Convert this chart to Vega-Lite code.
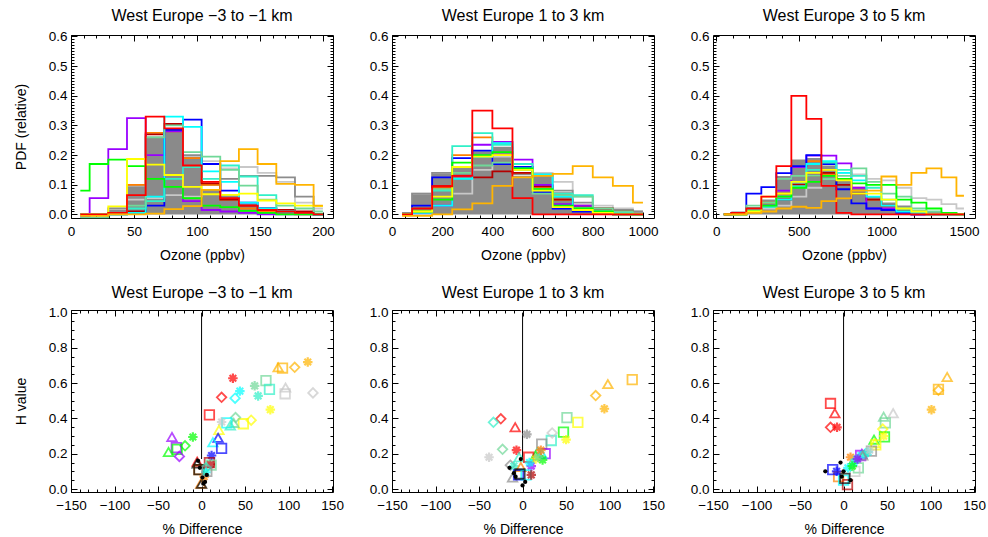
{
"$schema":"https://vega.github.io/schema/vega-lite/v6.json",
"padding":{"left":13,"top":7,"right":5,"bottom":3},
"background":"white",
"bounds":"flush",
"columns":3,
"spacing":{"row":92,"column":59},
"datasets":{
"o1":[{"x":7.4,"y":0},{"x":22.2,"y":0.003},{"x":37,"y":0.015},{"x":51.9,"y":0.095},{"x":66.7,"y":0.26},{"x":81.5,"y":0.29},{"x":96.3,"y":0.195},{"x":111.1,"y":0.085},{"x":125.9,"y":0.065},{"x":140.7,"y":0.035},{"x":155.6,"y":0.02},{"x":170.4,"y":0.01},{"x":185.2,"y":0.005},{"x":200,"y":0}],
"o2":[{"x":40,"y":0.005},{"x":120,"y":0.07},{"x":200,"y":0.14},{"x":280,"y":0.155},{"x":360,"y":0.21},{"x":440,"y":0.225},{"x":520,"y":0.13},{"x":600,"y":0.13},{"x":680,"y":0.075},{"x":760,"y":0.03},{"x":840,"y":0.02},{"x":920,"y":0.015},{"x":1000,"y":0.01}],
"o3":[{"x":45.5,"y":0.005},{"x":136.4,"y":0.01},{"x":227.3,"y":0.02},{"x":318.2,"y":0.05},{"x":409.1,"y":0.13},{"x":500,"y":0.185},{"x":590.9,"y":0.19},{"x":681.8,"y":0.165},{"x":772.7,"y":0.12},{"x":863.6,"y":0.09},{"x":954.5,"y":0.06},{"x":1045.5,"y":0.04},{"x":1136.4,"y":0.03},{"x":1227.3,"y":0.015},{"x":1318.2,"y":0.01},{"x":1409.1,"y":0.005},{"x":1500,"y":0.005}],
"h1":[
{"m":"lg","x":7.4,"y":0},{"m":"lg","x":22.2,"y":0},{"m":"lg","x":37,"y":0.02},{"m":"lg","x":51.9,"y":0.05},{"m":"lg","x":66.7,"y":0.055},{"m":"lg","x":81.5,"y":0.065},{"m":"lg","x":96.3,"y":0.06},{"m":"lg","x":111.1,"y":0.18},{"m":"lg","x":125.9,"y":0.155},{"m":"lg","x":140.7,"y":0.16},{"m":"lg","x":155.6,"y":0.14},{"m":"lg","x":170.4,"y":0.11},{"m":"lg","x":185.2,"y":0.04},{"m":"lg","x":200,"y":0.02},
{"m":"dg","x":7.4,"y":0},{"m":"dg","x":22.2,"y":0},{"m":"dg","x":37,"y":0.02},{"m":"dg","x":51.9,"y":0.1},{"m":"dg","x":66.7,"y":0.26},{"m":"dg","x":81.5,"y":0.28},{"m":"dg","x":96.3,"y":0.2},{"m":"dg","x":111.1,"y":0.1},{"m":"dg","x":125.9,"y":0.12},{"m":"dg","x":140.7,"y":0.13},{"m":"dg","x":155.6,"y":0.13},{"m":"dg","x":170.4,"y":0.125},{"m":"dg","x":185.2,"y":0.06},{"m":"dg","x":200,"y":0},
{"m":"or","x":7.4,"y":0},{"m":"or","x":22.2,"y":0},{"m":"or","x":37,"y":0.005},{"m":"or","x":51.9,"y":0.1},{"m":"or","x":66.7,"y":0.275},{"m":"or","x":81.5,"y":0.28},{"m":"or","x":96.3,"y":0.19},{"m":"or","x":111.1,"y":0.1},{"m":"or","x":125.9,"y":0.05},{"m":"or","x":140.7,"y":0.02},{"m":"or","x":155.6,"y":0.01},{"m":"or","x":170.4,"y":0.005},{"m":"or","x":185.2,"y":0},{"m":"or","x":200,"y":0},
{"m":"dr","x":7.4,"y":0},{"m":"dr","x":22.2,"y":0},{"m":"dr","x":37,"y":0.005},{"m":"dr","x":51.9,"y":0.01},{"m":"dr","x":66.7,"y":0.27},{"m":"dr","x":81.5,"y":0.305},{"m":"dr","x":96.3,"y":0.16},{"m":"dr","x":111.1,"y":0.105},{"m":"dr","x":125.9,"y":0.05},{"m":"dr","x":140.7,"y":0.03},{"m":"dr","x":155.6,"y":0.02},{"m":"dr","x":170.4,"y":0.015},{"m":"dr","x":185.2,"y":0.01},{"m":"dr","x":200,"y":0},
{"m":"pu","x":7.4,"y":-0.008},{"m":"pu","x":22.2,"y":0.055},{"m":"pu","x":37,"y":0.22},{"m":"pu","x":51.9,"y":0.325},{"m":"pu","x":66.7,"y":0.2},{"m":"pu","x":81.5,"y":0.28},{"m":"pu","x":96.3,"y":0.045},{"m":"pu","x":111.1,"y":0.015},{"m":"pu","x":125.9,"y":0.01},{"m":"pu","x":140.7,"y":0.005},{"m":"pu","x":155.6,"y":0},{"m":"pu","x":170.4,"y":0},{"m":"pu","x":185.2,"y":0},{"m":"pu","x":200,"y":0},
{"m":"bl","x":7.4,"y":0},{"m":"bl","x":22.2,"y":0},{"m":"bl","x":37,"y":0},{"m":"bl","x":51.9,"y":0.005},{"m":"bl","x":66.7,"y":0.03},{"m":"bl","x":81.5,"y":0.285},{"m":"bl","x":96.3,"y":0.32},{"m":"bl","x":111.1,"y":0.17},{"m":"bl","x":125.9,"y":0.08},{"m":"bl","x":140.7,"y":0.04},{"m":"bl","x":155.6,"y":0.02},{"m":"bl","x":170.4,"y":0.01},{"m":"bl","x":185.2,"y":0.005},{"m":"bl","x":200,"y":0},
{"m":"cy","x":7.4,"y":0},{"m":"cy","x":22.2,"y":0},{"m":"cy","x":37,"y":0},{"m":"cy","x":51.9,"y":0.005},{"m":"cy","x":66.7,"y":0.06},{"m":"cy","x":81.5,"y":0.33},{"m":"cy","x":96.3,"y":0.295},{"m":"cy","x":111.1,"y":0.145},{"m":"cy","x":125.9,"y":0.11},{"m":"cy","x":140.7,"y":0.04},{"m":"cy","x":155.6,"y":0.02},{"m":"cy","x":170.4,"y":0.01},{"m":"cy","x":185.2,"y":0.005},{"m":"cy","x":200,"y":0},
{"m":"tq","x":7.4,"y":0},{"m":"tq","x":22.2,"y":0},{"m":"tq","x":37,"y":0},{"m":"tq","x":51.9,"y":0.02},{"m":"tq","x":66.7,"y":0.045},{"m":"tq","x":81.5,"y":0.12},{"m":"tq","x":96.3,"y":0.16},{"m":"tq","x":111.1,"y":0.12},{"m":"tq","x":125.9,"y":0.165},{"m":"tq","x":140.7,"y":0.128},{"m":"tq","x":155.6,"y":0.065},{"m":"tq","x":170.4,"y":0.01},{"m":"tq","x":185.2,"y":0.005},{"m":"tq","x":200,"y":0},
{"m":"sg","x":7.4,"y":-0.01},{"m":"sg","x":22.2,"y":-0.01},{"m":"sg","x":37,"y":0},{"m":"sg","x":51.9,"y":0.03},{"m":"sg","x":66.7,"y":0.26},{"m":"sg","x":81.5,"y":0.3},{"m":"sg","x":96.3,"y":0.21},{"m":"sg","x":111.1,"y":0.195},{"m":"sg","x":125.9,"y":0.15},{"m":"sg","x":140.7,"y":0.097},{"m":"sg","x":155.6,"y":0.05},{"m":"sg","x":170.4,"y":0.03},{"m":"sg","x":185.2,"y":0.02},{"m":"sg","x":200,"y":0.01},
{"m":"gr","x":7.4,"y":0.08},{"m":"gr","x":22.2,"y":0.17},{"m":"gr","x":37,"y":0.185},{"m":"gr","x":51.9,"y":0.163},{"m":"gr","x":66.7,"y":0.12},{"m":"gr","x":81.5,"y":0.093},{"m":"gr","x":96.3,"y":0.055},{"m":"gr","x":111.1,"y":0.03},{"m":"gr","x":125.9,"y":0.025},{"m":"gr","x":140.7,"y":0.012},{"m":"gr","x":155.6,"y":0.005},{"m":"gr","x":170.4,"y":0},{"m":"gr","x":185.2,"y":0},{"m":"gr","x":200,"y":0},
{"m":"ye","x":7.4,"y":0},{"m":"ye","x":22.2,"y":0},{"m":"ye","x":37,"y":0.027},{"m":"ye","x":51.9,"y":0.187},{"m":"ye","x":66.7,"y":0.168},{"m":"ye","x":81.5,"y":0.133},{"m":"ye","x":96.3,"y":0.093},{"m":"ye","x":111.1,"y":0.068},{"m":"ye","x":125.9,"y":0.066},{"m":"ye","x":140.7,"y":0.07},{"m":"ye","x":155.6,"y":0.047},{"m":"ye","x":170.4,"y":0.037},{"m":"ye","x":185.2,"y":0.03},{"m":"ye","x":200,"y":0.028},
{"m":"re","x":7.4,"y":0},{"m":"re","x":22.2,"y":0},{"m":"re","x":37,"y":0.005},{"m":"re","x":51.9,"y":0.065},{"m":"re","x":66.7,"y":0.33},{"m":"re","x":81.5,"y":0.29},{"m":"re","x":96.3,"y":0.165},{"m":"re","x":111.1,"y":0.11},{"m":"re","x":125.9,"y":0.055},{"m":"re","x":140.7,"y":0.03},{"m":"re","x":155.6,"y":0.015},{"m":"re","x":170.4,"y":0.01},{"m":"re","x":185.2,"y":0.005},{"m":"re","x":200,"y":0},
{"m":"go","x":7.4,"y":-0.005},{"m":"go","x":22.2,"y":-0.005},{"m":"go","x":37,"y":0},{"m":"go","x":51.9,"y":0},{"m":"go","x":66.7,"y":0.003},{"m":"go","x":81.5,"y":0.018},{"m":"go","x":96.3,"y":0.028},{"m":"go","x":111.1,"y":0.083},{"m":"go","x":125.9,"y":0.18},{"m":"go","x":140.7,"y":0.22},{"m":"go","x":155.6,"y":0.17},{"m":"go","x":170.4,"y":0.103},{"m":"go","x":185.2,"y":0.1},{"m":"go","x":200,"y":0.03}],
"h2":[
{"m":"lg","x":40,"y":0.005},{"m":"lg","x":120,"y":0.07},{"m":"lg","x":200,"y":0.14},{"m":"lg","x":280,"y":0.07},{"m":"lg","x":360,"y":0.15},{"m":"lg","x":440,"y":0.195},{"m":"lg","x":520,"y":0.16},{"m":"lg","x":600,"y":0.14},{"m":"lg","x":680,"y":0.11},{"m":"lg","x":760,"y":0.06},{"m":"lg","x":840,"y":0.03},{"m":"lg","x":920,"y":0.02},{"m":"lg","x":1000,"y":0.01},
{"m":"dg","x":40,"y":0.005},{"m":"dg","x":120,"y":0.07},{"m":"dg","x":200,"y":0.14},{"m":"dg","x":280,"y":0.155},{"m":"dg","x":360,"y":0.21},{"m":"dg","x":440,"y":0.225},{"m":"dg","x":520,"y":0.135},{"m":"dg","x":600,"y":0.135},{"m":"dg","x":680,"y":0.08},{"m":"dg","x":760,"y":0.04},{"m":"dg","x":840,"y":0.02},{"m":"dg","x":920,"y":0.015},{"m":"dg","x":1000,"y":0.01},
{"m":"or","x":40,"y":0},{"m":"or","x":120,"y":0.01},{"m":"or","x":200,"y":0.09},{"m":"or","x":280,"y":0.2},{"m":"or","x":360,"y":0.26},{"m":"or","x":440,"y":0.2},{"m":"or","x":520,"y":0.14},{"m":"or","x":600,"y":0.09},{"m":"or","x":680,"y":0.05},{"m":"or","x":760,"y":0.02},{"m":"or","x":840,"y":0.01},{"m":"or","x":920,"y":0},{"m":"or","x":1000,"y":0},
{"m":"dr","x":40,"y":0},{"m":"dr","x":120,"y":0.02},{"m":"dr","x":200,"y":0.095},{"m":"dr","x":280,"y":0.13},{"m":"dr","x":360,"y":0.125},{"m":"dr","x":440,"y":0.145},{"m":"dr","x":520,"y":0.14},{"m":"dr","x":600,"y":0.095},{"m":"dr","x":680,"y":0.05},{"m":"dr","x":760,"y":0.03},{"m":"dr","x":840,"y":0.02},{"m":"dr","x":920,"y":0.01},{"m":"dr","x":1000,"y":0},
{"m":"pu","x":40,"y":0},{"m":"pu","x":120,"y":0.005},{"m":"pu","x":200,"y":0.03},{"m":"pu","x":280,"y":0.13},{"m":"pu","x":360,"y":0.235},{"m":"pu","x":440,"y":0.245},{"m":"pu","x":520,"y":0.185},{"m":"pu","x":600,"y":0.1},{"m":"pu","x":680,"y":0.035},{"m":"pu","x":760,"y":0.03},{"m":"pu","x":840,"y":0.01},{"m":"pu","x":920,"y":0},{"m":"pu","x":1000,"y":0},
{"m":"bl","x":40,"y":0},{"m":"bl","x":120,"y":0.03},{"m":"bl","x":200,"y":0.125},{"m":"bl","x":280,"y":0.19},{"m":"bl","x":360,"y":0.215},{"m":"bl","x":440,"y":0.17},{"m":"bl","x":520,"y":0.16},{"m":"bl","x":600,"y":0.075},{"m":"bl","x":680,"y":0.02},{"m":"bl","x":760,"y":0.01},{"m":"bl","x":840,"y":0.005},{"m":"bl","x":920,"y":0},{"m":"bl","x":1000,"y":0},
{"m":"cy","x":40,"y":0},{"m":"cy","x":120,"y":0.005},{"m":"cy","x":200,"y":0.03},{"m":"cy","x":280,"y":0.12},{"m":"cy","x":360,"y":0.195},{"m":"cy","x":440,"y":0.24},{"m":"cy","x":520,"y":0.155},{"m":"cy","x":600,"y":0.135},{"m":"cy","x":680,"y":0.06},{"m":"cy","x":760,"y":0.02},{"m":"cy","x":840,"y":0.01},{"m":"cy","x":920,"y":0.005},{"m":"cy","x":1000,"y":0},
{"m":"tq","x":40,"y":0},{"m":"tq","x":120,"y":0.02},{"m":"tq","x":200,"y":0.08},{"m":"tq","x":280,"y":0.23},{"m":"tq","x":360,"y":0.274},{"m":"tq","x":440,"y":0.235},{"m":"tq","x":520,"y":0.17},{"m":"tq","x":600,"y":0.085},{"m":"tq","x":680,"y":0.07},{"m":"tq","x":760,"y":0.065},{"m":"tq","x":840,"y":0.01},{"m":"tq","x":920,"y":0.005},{"m":"tq","x":1000,"y":0},
{"m":"sg","x":40,"y":0},{"m":"sg","x":120,"y":0.01},{"m":"sg","x":200,"y":0.085},{"m":"sg","x":280,"y":0.14},{"m":"sg","x":360,"y":0.165},{"m":"sg","x":440,"y":0.175},{"m":"sg","x":520,"y":0.15},{"m":"sg","x":600,"y":0.07},{"m":"sg","x":680,"y":0.065},{"m":"sg","x":760,"y":0.06},{"m":"sg","x":840,"y":0.02},{"m":"sg","x":920,"y":0.01},{"m":"sg","x":1000,"y":0},
{"m":"gr","x":40,"y":0},{"m":"gr","x":120,"y":0.01},{"m":"gr","x":200,"y":0.05},{"m":"gr","x":280,"y":0.175},{"m":"gr","x":360,"y":0.2},{"m":"gr","x":440,"y":0.21},{"m":"gr","x":520,"y":0.155},{"m":"gr","x":600,"y":0.085},{"m":"gr","x":680,"y":0.03},{"m":"gr","x":760,"y":0.02},{"m":"gr","x":840,"y":0.01},{"m":"gr","x":920,"y":0},{"m":"gr","x":1000,"y":0},
{"m":"ye","x":40,"y":0},{"m":"ye","x":120,"y":0.01},{"m":"ye","x":200,"y":0.06},{"m":"ye","x":280,"y":0.16},{"m":"ye","x":360,"y":0.195},{"m":"ye","x":440,"y":0.2},{"m":"ye","x":520,"y":0.15},{"m":"ye","x":600,"y":0.08},{"m":"ye","x":680,"y":0.025},{"m":"ye","x":760,"y":0.015},{"m":"ye","x":840,"y":0.005},{"m":"ye","x":920,"y":0},{"m":"ye","x":1000,"y":0},
{"m":"re","x":40,"y":0},{"m":"re","x":120,"y":0.02},{"m":"re","x":200,"y":0.095},{"m":"re","x":280,"y":0.13},{"m":"re","x":360,"y":0.35},{"m":"re","x":440,"y":0.29},{"m":"re","x":520,"y":0.055},{"m":"re","x":600,"y":0},{"m":"re","x":680,"y":0},{"m":"re","x":760,"y":0},{"m":"re","x":840,"y":0},{"m":"re","x":920,"y":0},{"m":"re","x":1000,"y":0},
{"m":"go","x":40,"y":-0.005},{"m":"go","x":120,"y":-0.005},{"m":"go","x":200,"y":0},{"m":"go","x":280,"y":0.017},{"m":"go","x":360,"y":0.037},{"m":"go","x":440,"y":0.096},{"m":"go","x":520,"y":0.125},{"m":"go","x":600,"y":0.13},{"m":"go","x":680,"y":0.137},{"m":"go","x":760,"y":0.163},{"m":"go","x":840,"y":0.125},{"m":"go","x":920,"y":0.096},{"m":"go","x":1000,"y":0.04}],
"h3":[
{"m":"lg","x":45.5,"y":0},{"m":"lg","x":136.4,"y":0},{"m":"lg","x":227.3,"y":0.01},{"m":"lg","x":318.2,"y":0.02},{"m":"lg","x":409.1,"y":0.03},{"m":"lg","x":500,"y":0.06},{"m":"lg","x":590.9,"y":0.09},{"m":"lg","x":681.8,"y":0.12},{"m":"lg","x":772.7,"y":0.14},{"m":"lg","x":863.6,"y":0.135},{"m":"lg","x":954.5,"y":0.12},{"m":"lg","x":1045.5,"y":0.115},{"m":"lg","x":1136.4,"y":0.09},{"m":"lg","x":1227.3,"y":0.055},{"m":"lg","x":1318.2,"y":0.05},{"m":"lg","x":1409.1,"y":0.035},{"m":"lg","x":1500,"y":0.02},
{"m":"or","x":45.5,"y":0},{"m":"or","x":136.4,"y":0},{"m":"or","x":227.3,"y":0.02},{"m":"or","x":318.2,"y":0.04},{"m":"or","x":409.1,"y":0.07},{"m":"or","x":500,"y":0.1},{"m":"or","x":590.9,"y":0.18},{"m":"or","x":681.8,"y":0.135},{"m":"or","x":772.7,"y":0.12},{"m":"or","x":863.6,"y":0.09},{"m":"or","x":954.5,"y":0.05},{"m":"or","x":1045.5,"y":0.02},{"m":"or","x":1136.4,"y":0.01},{"m":"or","x":1227.3,"y":0},{"m":"or","x":1318.2,"y":0},{"m":"or","x":1409.1,"y":0},{"m":"or","x":1500,"y":0},
{"m":"dr","x":45.5,"y":0},{"m":"dr","x":136.4,"y":0},{"m":"dr","x":227.3,"y":0.02},{"m":"dr","x":318.2,"y":0.03},{"m":"dr","x":409.1,"y":0.05},{"m":"dr","x":500,"y":0.1},{"m":"dr","x":590.9,"y":0.13},{"m":"dr","x":681.8,"y":0.14},{"m":"dr","x":772.7,"y":0.1},{"m":"dr","x":863.6,"y":0.07},{"m":"dr","x":954.5,"y":0.05},{"m":"dr","x":1045.5,"y":0.03},{"m":"dr","x":1136.4,"y":0.01},{"m":"dr","x":1227.3,"y":0},{"m":"dr","x":1318.2,"y":0},{"m":"dr","x":1409.1,"y":0},{"m":"dr","x":1500,"y":0},
{"m":"pu","x":45.5,"y":0},{"m":"pu","x":136.4,"y":0},{"m":"pu","x":227.3,"y":0.01},{"m":"pu","x":318.2,"y":0.03},{"m":"pu","x":409.1,"y":0.08},{"m":"pu","x":500,"y":0.16},{"m":"pu","x":590.9,"y":0.198},{"m":"pu","x":681.8,"y":0.198},{"m":"pu","x":772.7,"y":0.172},{"m":"pu","x":863.6,"y":0.09},{"m":"pu","x":954.5,"y":0.02},{"m":"pu","x":1045.5,"y":0.02},{"m":"pu","x":1136.4,"y":0.005},{"m":"pu","x":1227.3,"y":0},{"m":"pu","x":1318.2,"y":0},{"m":"pu","x":1409.1,"y":0},{"m":"pu","x":1500,"y":0},
{"m":"bl","x":45.5,"y":0},{"m":"bl","x":136.4,"y":0.005},{"m":"bl","x":227.3,"y":0.07},{"m":"bl","x":318.2,"y":0.092},{"m":"bl","x":409.1,"y":0.139},{"m":"bl","x":500,"y":0.163},{"m":"bl","x":590.9,"y":0.2},{"m":"bl","x":681.8,"y":0.17},{"m":"bl","x":772.7,"y":0.085},{"m":"bl","x":863.6,"y":0.037},{"m":"bl","x":954.5,"y":0.02},{"m":"bl","x":1045.5,"y":0.015},{"m":"bl","x":1136.4,"y":0.005},{"m":"bl","x":1227.3,"y":0},{"m":"bl","x":1318.2,"y":0},{"m":"bl","x":1409.1,"y":0},{"m":"bl","x":1500,"y":0},
{"m":"cy","x":45.5,"y":0},{"m":"cy","x":136.4,"y":0},{"m":"cy","x":227.3,"y":0.02},{"m":"cy","x":318.2,"y":0.03},{"m":"cy","x":409.1,"y":0.05},{"m":"cy","x":500,"y":0.11},{"m":"cy","x":590.9,"y":0.17},{"m":"cy","x":681.8,"y":0.18},{"m":"cy","x":772.7,"y":0.14},{"m":"cy","x":863.6,"y":0.115},{"m":"cy","x":954.5,"y":0.06},{"m":"cy","x":1045.5,"y":0.03},{"m":"cy","x":1136.4,"y":0.01},{"m":"cy","x":1227.3,"y":0.005},{"m":"cy","x":1318.2,"y":0},{"m":"cy","x":1409.1,"y":0},{"m":"cy","x":1500,"y":0},
{"m":"tq","x":45.5,"y":0},{"m":"tq","x":136.4,"y":0},{"m":"tq","x":227.3,"y":0.015},{"m":"tq","x":318.2,"y":0.025},{"m":"tq","x":409.1,"y":0.06},{"m":"tq","x":500,"y":0.095},{"m":"tq","x":590.9,"y":0.15},{"m":"tq","x":681.8,"y":0.175},{"m":"tq","x":772.7,"y":0.15},{"m":"tq","x":863.6,"y":0.13},{"m":"tq","x":954.5,"y":0.09},{"m":"tq","x":1045.5,"y":0.05},{"m":"tq","x":1136.4,"y":0.02},{"m":"tq","x":1227.3,"y":0.01},{"m":"tq","x":1318.2,"y":0},{"m":"tq","x":1409.1,"y":0},{"m":"tq","x":1500,"y":0},
{"m":"sg","x":45.5,"y":0},{"m":"sg","x":136.4,"y":0},{"m":"sg","x":227.3,"y":0.03},{"m":"sg","x":318.2,"y":0.04},{"m":"sg","x":409.1,"y":0.12},{"m":"sg","x":500,"y":0.13},{"m":"sg","x":590.9,"y":0.13},{"m":"sg","x":681.8,"y":0.12},{"m":"sg","x":772.7,"y":0.13},{"m":"sg","x":863.6,"y":0.155},{"m":"sg","x":954.5,"y":0.11},{"m":"sg","x":1045.5,"y":0.07},{"m":"sg","x":1136.4,"y":0.06},{"m":"sg","x":1227.3,"y":0.02},{"m":"sg","x":1318.2,"y":0.01},{"m":"sg","x":1409.1,"y":0.005},{"m":"sg","x":1500,"y":0},
{"m":"gr","x":45.5,"y":0},{"m":"gr","x":136.4,"y":0},{"m":"gr","x":227.3,"y":0.01},{"m":"gr","x":318.2,"y":0.03},{"m":"gr","x":409.1,"y":0.06},{"m":"gr","x":500,"y":0.09},{"m":"gr","x":590.9,"y":0.11},{"m":"gr","x":681.8,"y":0.13},{"m":"gr","x":772.7,"y":0.12},{"m":"gr","x":863.6,"y":0.105},{"m":"gr","x":954.5,"y":0.1},{"m":"gr","x":1045.5,"y":0.1},{"m":"gr","x":1136.4,"y":0.05},{"m":"gr","x":1227.3,"y":0.04},{"m":"gr","x":1318.2,"y":0.02},{"m":"gr","x":1409.1,"y":0.005},{"m":"gr","x":1500,"y":0},
{"m":"ye","x":45.5,"y":0},{"m":"ye","x":136.4,"y":0},{"m":"ye","x":227.3,"y":0.01},{"m":"ye","x":318.2,"y":0.06},{"m":"ye","x":409.1,"y":0.07},{"m":"ye","x":500,"y":0.11},{"m":"ye","x":590.9,"y":0.14},{"m":"ye","x":681.8,"y":0.15},{"m":"ye","x":772.7,"y":0.115},{"m":"ye","x":863.6,"y":0.07},{"m":"ye","x":954.5,"y":0.07},{"m":"ye","x":1045.5,"y":0.05},{"m":"ye","x":1136.4,"y":0.02},{"m":"ye","x":1227.3,"y":0.01},{"m":"ye","x":1318.2,"y":0},{"m":"ye","x":1409.1,"y":0},{"m":"ye","x":1500,"y":0},
{"m":"re","x":45.5,"y":0},{"m":"re","x":136.4,"y":0.005},{"m":"re","x":227.3,"y":0.02},{"m":"re","x":318.2,"y":0.06},{"m":"re","x":409.1,"y":0.163},{"m":"re","x":500,"y":0.4},{"m":"re","x":590.9,"y":0.322},{"m":"re","x":681.8,"y":0.096},{"m":"re","x":772.7,"y":0.005},{"m":"re","x":863.6,"y":0},{"m":"re","x":954.5,"y":0},{"m":"re","x":1045.5,"y":0},{"m":"re","x":1136.4,"y":0},{"m":"re","x":1227.3,"y":0},{"m":"re","x":1318.2,"y":0},{"m":"re","x":1409.1,"y":0},{"m":"re","x":1500,"y":0},
{"m":"go","x":45.5,"y":0},{"m":"go","x":136.4,"y":0},{"m":"go","x":227.3,"y":0.005},{"m":"go","x":318.2,"y":0.01},{"m":"go","x":409.1,"y":0.02},{"m":"go","x":500,"y":0.026},{"m":"go","x":590.9,"y":0.022},{"m":"go","x":681.8,"y":0.045},{"m":"go","x":772.7,"y":0.054},{"m":"go","x":863.6,"y":0.08},{"m":"go","x":954.5,"y":0.08},{"m":"go","x":1045.5,"y":0.128},{"m":"go","x":1136.4,"y":0.1},{"m":"go","x":1227.3,"y":0.14},{"m":"go","x":1318.2,"y":0.155},{"m":"go","x":1409.1,"y":0.125},{"m":"go","x":1500,"y":0.063}],
"r":[{"x":0,"y":0.17,"y2":1.0}],
"s1":[
{"m":"go","s":"ast","x":122,"y":0.72},{"m":"go","s":"dia","x":107,"y":0.69},{"m":"go","s":"tri","x":88,"y":0.69},{"m":"go","s":"sq","x":93,"y":0.686},
{"m":"lg","s":"tri","x":96.5,"y":0.575},{"m":"lg","s":"sq","x":96,"y":0.54},{"m":"lg","s":"dia","x":128,"y":0.545},
{"m":"sg","s":"sq","x":74,"y":0.615},{"m":"tq","s":"sq","x":78,"y":0.565},{"m":"sg","s":"ast","x":61,"y":0.585},{"m":"tq","s":"ast","x":65,"y":0.528},
{"m":"re","s":"ast","x":36,"y":0.628},{"m":"cy","s":"ast","x":44,"y":0.555},{"m":"cy","s":"dia","x":38.5,"y":0.515},{"m":"re","s":"dia","x":23,"y":0.52},
{"m":"ye","s":"ast","x":79,"y":0.45},{"m":"re","s":"sq","x":9,"y":0.42},{"m":"ye","s":"dia","x":57,"y":0.39},{"m":"ye","s":"sq","x":48,"y":0.37},
{"m":"sg","s":"dia","x":39,"y":0.405},{"m":"sg","s":"tri","x":37,"y":0.375},{"m":"cy","s":"sq","x":29,"y":0.375},{"m":"tq","s":"tri","x":33,"y":0.36},{"m":"lg","s":"ast","x":23,"y":0.38},
{"m":"ye","s":"tri","x":20,"y":0.335},{"m":"bl","s":"tri","x":19,"y":0.29},{"m":"cy","s":"tri","x":13,"y":0.265},{"m":"bl","s":"sq","x":23,"y":0.23},{"m":"bl","s":"ast","x":11.5,"y":0.19},
{"m":"pu","s":"tri","x":-34,"y":0.295},{"m":"gr","s":"ast","x":-10,"y":0.295},{"m":"gr","s":"dia","x":-19,"y":0.245},{"m":"pu","s":"sq","x":-29,"y":0.235},{"m":"gr","s":"sq","x":-28,"y":0.225},{"m":"gr","s":"tri","x":-38,"y":0.21},{"m":"pu","s":"dia","x":-25.5,"y":0.185},
{"m":"re","s":"tri","x":-5,"y":0.155},{"m":"bk","s":"tri","x":-5,"y":0.145},{"m":"or","s":"sq","x":-3,"y":0.11},{"m":"bk","s":"sq","x":-3,"y":0.11},{"m":"dr","s":"sq","x":9,"y":0.15},{"m":"dr","s":"ast","x":10,"y":0.14},{"m":"sg","s":"sq","x":11,"y":0.135},
{"m":"or","s":"tri","x":-1,"y":0.03},{"m":"bk","s":"tri","x":0,"y":0.03},{"m":"or","s":"ast","x":3,"y":0.07},{"m":"cy","s":"ast","x":5,"y":0.095},{"m":"tq","s":"dia","x":5,"y":0.12},{"m":"dg","s":"sq","x":6,"y":0.1}],
"d1":[{"x":-2,"y":0.12},{"x":1,"y":0.065},{"x":4,"y":0.04},{"x":6,"y":0.08},{"x":-4,"y":0.16},{"x":2,"y":0.03}],
"s2":[
{"m":"go","s":"sq","x":126,"y":0.62},{"m":"go","s":"tri","x":98,"y":0.595},{"m":"go","s":"dia","x":84,"y":0.53},{"m":"go","s":"ast","x":94,"y":0.455},
{"m":"sg","s":"sq","x":51,"y":0.405},{"m":"ye","s":"sq","x":63.5,"y":0.378},{"m":"gr","s":"sq","x":47,"y":0.322},{"m":"ye","s":"ast","x":50,"y":0.28},{"m":"tq","s":"sq","x":33,"y":0.275},{"m":"lg","s":"dia","x":34,"y":0.318},
{"m":"dg","s":"sq","x":22,"y":0.255},{"m":"pu","s":"sq","x":26,"y":0.2},{"m":"lg","s":"tri","x":20,"y":0.21},{"m":"sg","s":"tri","x":17,"y":0.21},{"m":"gr","s":"tri","x":15,"y":0.19},{"m":"cy","s":"tri","x":22,"y":0.2},
{"m":"re","s":"dia","x":-25,"y":0.398},{"m":"tq","s":"dia","x":-33.5,"y":0.378},{"m":"re","s":"tri","x":-8.5,"y":0.35},{"m":"dg","s":"ast","x":5,"y":0.31},{"m":"sg","s":"dia","x":-23,"y":0.225},{"m":"lg","s":"ast","x":-38.5,"y":0.18},
{"m":"re","s":"ast","x":-7,"y":0.22},{"m":"tq","s":"tri","x":-4,"y":0.18},{"m":"re","s":"sq","x":7,"y":0.18},{"m":"gr","s":"ast","x":23,"y":0.165},{"m":"pu","s":"ast","x":10,"y":0.13},
{"m":"dg","s":"dia","x":-14,"y":0.135},{"m":"tq","s":"ast","x":-10,"y":0.13},{"m":"or","s":"tri","x":-2,"y":0.125},{"m":"dg","s":"tri","x":-11.5,"y":0.065},{"m":"bl","s":"sq","x":-4.6,"y":0.08},{"m":"cy","s":"sq","x":4,"y":0.08},{"m":"dr","s":"ast","x":10,"y":0.08},
{"m":"ye","s":"ast","x":15,"y":0.17},{"m":"cy","s":"ast","x":8,"y":0.15},{"m":"bk","s":"sq","x":-3,"y":0.085},{"m":"sg","s":"ast","x":18,"y":0.18},{"m":"or","s":"ast","x":21,"y":0.22}],
"d2":[{"x":-15,"y":0.12},{"x":-8,"y":0.07},{"x":0,"y":0.02},{"x":3,"y":0.04},{"x":-2,"y":0.17},{"x":-10,"y":0.09}],
"s3":[
{"m":"go","s":"tri","x":119,"y":0.635},{"m":"go","s":"sq","x":109,"y":0.565},{"m":"go","s":"dia","x":109,"y":0.56},{"m":"go","s":"ast","x":101,"y":0.45},
{"m":"lg","s":"tri","x":57,"y":0.43},{"m":"sg","s":"tri","x":46,"y":0.41},{"m":"sg","s":"sq","x":48,"y":0.375},{"m":"ye","s":"dia","x":45,"y":0.34},{"m":"gr","s":"sq","x":47,"y":0.295},{"m":"gr","s":"tri","x":35,"y":0.28},
{"m":"ye","s":"sq","x":37,"y":0.25},{"m":"ye","s":"tri","x":36,"y":0.26},{"m":"dg","s":"sq","x":32,"y":0.215},
{"m":"re","s":"sq","x":-15,"y":0.485},{"m":"re","s":"tri","x":-10,"y":0.43},{"m":"re","s":"dia","x":-15,"y":0.35},{"m":"re","s":"ast","x":-7.5,"y":0.35},
{"m":"or","s":"ast","x":8,"y":0.18},{"m":"bl","s":"sq","x":-12.5,"y":0.11},{"m":"pu","s":"sq","x":19.6,"y":0.19},{"m":"pu","s":"tri","x":21,"y":0.2},{"m":"sg","s":"sq","x":17,"y":0.12},{"m":"lg","s":"sq","x":13,"y":0.1},
{"m":"or","s":"sq","x":-5.7,"y":0.07},{"m":"cy","s":"sq","x":0,"y":0.05},{"m":"dr","s":"sq","x":4.5,"y":0.025},{"m":"bk","s":"sq","x":1.5,"y":0.06},
{"m":"cy","s":"ast","x":5,"y":0.12},{"m":"cy","s":"ast","x":12,"y":0.15},{"m":"cy","s":"ast","x":20,"y":0.19},{"m":"cy","s":"ast","x":28,"y":0.21},{"m":"tq","s":"ast","x":15,"y":0.17},{"m":"tq","s":"ast","x":25,"y":0.2},
{"m":"lg","s":"ast","x":30,"y":0.22},{"m":"gr","s":"ast","x":10,"y":0.13},{"m":"ye","s":"ast","x":46,"y":0.3},{"m":"dg","s":"tri","x":22,"y":0.19},{"m":"pu","s":"ast","x":16,"y":0.17},{"m":"bl","s":"ast","x":-8,"y":0.1}],
"d3":[{"x":-21,"y":0.1},{"x":-3.5,"y":0.15},{"x":8,"y":0.05},{"x":0,"y":0.1},{"x":-2,"y":0.07}]
},
"concat":[
{"width":262,"height":183,"title":"West Europe \u22123 to \u22121 km",
 "layer":[
  {"data":{"name":"o1"},"mark":{"type":"point","opacity":0},
   "encoding":{"x":{"field":"x","type":"quantitative","scale":{"domain":[0,208],"nice":false,"zero":false},"axis":{"orient":"bottom","title":null,"labels":false,"tickSize":3,"offset":-3,"values":[0,10,20,30,40,50,60,70,80,90,100,110,120,130,140,150,160,170,180,190,200]}},
    "y":{"field":"y","type":"quantitative","scale":{"domain":[-0.012,0.605],"nice":false,"zero":false},"axis":{"orient":"left","title":null,"labels":false,"tickSize":3,"offset":-3,"values":[0,0.01,0.02,0.03,0.04,0.05,0.06,0.07,0.08,0.09,0.1,0.11,0.12,0.13,0.14,0.15,0.16,0.17,0.18,0.19,0.2,0.21,0.22,0.23,0.24,0.25,0.26,0.27,0.28,0.29,0.3,0.31,0.32,0.33,0.34,0.35,0.36,0.37,0.38,0.39,0.4,0.41,0.42,0.43,0.44,0.45,0.46,0.47,0.48,0.49,0.5,0.51,0.52,0.53,0.54,0.55,0.56,0.57,0.58,0.59,0.6]}}}},
  {"data":{"name":"o1"},"mark":{"type":"point","opacity":0},
   "encoding":{"x":{"field":"x","type":"quantitative","axis":{"orient":"top","title":null,"labels":false,"tickSize":3,"offset":-3,"values":[0,10,20,30,40,50,60,70,80,90,100,110,120,130,140,150,160,170,180,190,200]}},
    "y":{"field":"y","type":"quantitative","axis":{"orient":"right","title":null,"labels":false,"tickSize":3,"offset":-3,"values":[0,0.01,0.02,0.03,0.04,0.05,0.06,0.07,0.08,0.09,0.1,0.11,0.12,0.13,0.14,0.15,0.16,0.17,0.18,0.19,0.2,0.21,0.22,0.23,0.24,0.25,0.26,0.27,0.28,0.29,0.3,0.31,0.32,0.33,0.34,0.35,0.36,0.37,0.38,0.39,0.4,0.41,0.42,0.43,0.44,0.45,0.46,0.47,0.48,0.49,0.5,0.51,0.52,0.53,0.54,0.55,0.56,0.57,0.58,0.59,0.6]}}}},
  {"data":{"name":"o1"},"mark":{"type":"area","interpolate":"step","color":"#8a8a8a"},
   "encoding":{"x":{"field":"x","type":"quantitative","axis":{"orient":"bottom","title":"Ozone (ppbv)","tickSize":6,"offset":-6,"values":[0,50,100,150,200]}},
    "y":{"field":"y","type":"quantitative","axis":{"orient":"left","title":"PDF (relative)","format":".1f","tickSize":6,"offset":-6,"values":[0,0.1,0.2,0.3,0.4,0.5,0.6]}},
    "y2":{"datum":0}}},
  {"data":{"name":"h1"},"mark":{"type":"line","interpolate":"step","strokeWidth":1.8},
   "encoding":{"x":{"field":"x","type":"quantitative","axis":{"orient":"top","title":null,"labels":false,"tickSize":6,"offset":-6,"values":[0,50,100,150,200]}},
    "y":{"field":"y","type":"quantitative","axis":{"orient":"right","title":null,"labels":false,"tickSize":6,"offset":-6,"values":[0,0.1,0.2,0.3,0.4,0.5,0.6]}},
    "color":{"field":"m","type":"nominal","legend":null,"scale":{"domain":["pu","bl","cy","tq","sg","gr","ye","go","or","re","dr","dg","lg","bk"],"range":["#9900ff","#0000ff","#00ffff","#30f0c8","#70d898","#00ff00","#ffff00","#ffb400","#ff7f00","#ff0000","#b40000","#8c8c8c","#c8c8c8","#000000"]}}}}
 ],
 "resolve":{"axis":{"x":"independent","y":"independent"}}},
{"width":262,"height":183,"title":"West Europe 1 to 3 km",
 "layer":[
  {"data":{"name":"o2"},"mark":{"type":"point","opacity":0},
   "encoding":{"x":{"field":"x","type":"quantitative","scale":{"domain":[0,1044],"nice":false,"zero":false},"axis":{"orient":"bottom","title":null,"labels":false,"tickSize":3,"offset":-3,"values":[0,50,100,150,200,250,300,350,400,450,500,550,600,650,700,750,800,850,900,950,1000]}},
    "y":{"field":"y","type":"quantitative","scale":{"domain":[-0.012,0.605],"nice":false,"zero":false},"axis":{"orient":"left","title":null,"labels":false,"tickSize":3,"offset":-3,"values":[0,0.01,0.02,0.03,0.04,0.05,0.06,0.07,0.08,0.09,0.1,0.11,0.12,0.13,0.14,0.15,0.16,0.17,0.18,0.19,0.2,0.21,0.22,0.23,0.24,0.25,0.26,0.27,0.28,0.29,0.3,0.31,0.32,0.33,0.34,0.35,0.36,0.37,0.38,0.39,0.4,0.41,0.42,0.43,0.44,0.45,0.46,0.47,0.48,0.49,0.5,0.51,0.52,0.53,0.54,0.55,0.56,0.57,0.58,0.59,0.6]}}}},
  {"data":{"name":"o2"},"mark":{"type":"point","opacity":0},
   "encoding":{"x":{"field":"x","type":"quantitative","axis":{"orient":"top","title":null,"labels":false,"tickSize":3,"offset":-3,"values":[0,50,100,150,200,250,300,350,400,450,500,550,600,650,700,750,800,850,900,950,1000]}},
    "y":{"field":"y","type":"quantitative","axis":{"orient":"right","title":null,"labels":false,"tickSize":3,"offset":-3,"values":[0,0.01,0.02,0.03,0.04,0.05,0.06,0.07,0.08,0.09,0.1,0.11,0.12,0.13,0.14,0.15,0.16,0.17,0.18,0.19,0.2,0.21,0.22,0.23,0.24,0.25,0.26,0.27,0.28,0.29,0.3,0.31,0.32,0.33,0.34,0.35,0.36,0.37,0.38,0.39,0.4,0.41,0.42,0.43,0.44,0.45,0.46,0.47,0.48,0.49,0.5,0.51,0.52,0.53,0.54,0.55,0.56,0.57,0.58,0.59,0.6]}}}},
  {"data":{"name":"o2"},"mark":{"type":"area","interpolate":"step","color":"#8a8a8a"},
   "encoding":{"x":{"field":"x","type":"quantitative","axis":{"orient":"bottom","title":"Ozone (ppbv)","format":"d","tickSize":6,"offset":-6,"values":[0,200,400,600,800,1000]}},
    "y":{"field":"y","type":"quantitative","axis":{"orient":"left","title":null,"format":".1f","tickSize":6,"offset":-6,"values":[0,0.1,0.2,0.3,0.4,0.5,0.6]}},
    "y2":{"datum":0}}},
  {"data":{"name":"h2"},"mark":{"type":"line","interpolate":"step","strokeWidth":1.8},
   "encoding":{"x":{"field":"x","type":"quantitative","axis":{"orient":"top","title":null,"labels":false,"tickSize":6,"offset":-6,"values":[0,200,400,600,800,1000]}},
    "y":{"field":"y","type":"quantitative","axis":{"orient":"right","title":null,"labels":false,"tickSize":6,"offset":-6,"values":[0,0.1,0.2,0.3,0.4,0.5,0.6]}},
    "color":{"field":"m","type":"nominal","legend":null,"scale":{"domain":["pu","bl","cy","tq","sg","gr","ye","go","or","re","dr","dg","lg","bk"],"range":["#9900ff","#0000ff","#00ffff","#30f0c8","#70d898","#00ff00","#ffff00","#ffb400","#ff7f00","#ff0000","#b40000","#8c8c8c","#c8c8c8","#000000"]}}}}
 ],
 "resolve":{"axis":{"x":"independent","y":"independent"}}},
{"width":262,"height":183,"title":"West Europe 3 to 5 km",
 "layer":[
  {"data":{"name":"o3"},"mark":{"type":"point","opacity":0},
   "encoding":{"x":{"field":"x","type":"quantitative","scale":{"domain":[-20,1567],"nice":false,"zero":false},"axis":{"orient":"bottom","title":null,"labels":false,"tickSize":3,"offset":-3,"values":[0,100,200,300,400,500,600,700,800,900,1000,1100,1200,1300,1400,1500]}},
    "y":{"field":"y","type":"quantitative","scale":{"domain":[-0.012,0.605],"nice":false,"zero":false},"axis":{"orient":"left","title":null,"labels":false,"tickSize":3,"offset":-3,"values":[0,0.01,0.02,0.03,0.04,0.05,0.06,0.07,0.08,0.09,0.1,0.11,0.12,0.13,0.14,0.15,0.16,0.17,0.18,0.19,0.2,0.21,0.22,0.23,0.24,0.25,0.26,0.27,0.28,0.29,0.3,0.31,0.32,0.33,0.34,0.35,0.36,0.37,0.38,0.39,0.4,0.41,0.42,0.43,0.44,0.45,0.46,0.47,0.48,0.49,0.5,0.51,0.52,0.53,0.54,0.55,0.56,0.57,0.58,0.59,0.6]}}}},
  {"data":{"name":"o3"},"mark":{"type":"point","opacity":0},
   "encoding":{"x":{"field":"x","type":"quantitative","axis":{"orient":"top","title":null,"labels":false,"tickSize":3,"offset":-3,"values":[0,100,200,300,400,500,600,700,800,900,1000,1100,1200,1300,1400,1500]}},
    "y":{"field":"y","type":"quantitative","axis":{"orient":"right","title":null,"labels":false,"tickSize":3,"offset":-3,"values":[0,0.01,0.02,0.03,0.04,0.05,0.06,0.07,0.08,0.09,0.1,0.11,0.12,0.13,0.14,0.15,0.16,0.17,0.18,0.19,0.2,0.21,0.22,0.23,0.24,0.25,0.26,0.27,0.28,0.29,0.3,0.31,0.32,0.33,0.34,0.35,0.36,0.37,0.38,0.39,0.4,0.41,0.42,0.43,0.44,0.45,0.46,0.47,0.48,0.49,0.5,0.51,0.52,0.53,0.54,0.55,0.56,0.57,0.58,0.59,0.6]}}}},
  {"data":{"name":"o3"},"mark":{"type":"area","interpolate":"step","color":"#8a8a8a"},
   "encoding":{"x":{"field":"x","type":"quantitative","axis":{"orient":"bottom","title":"Ozone (ppbv)","format":"d","tickSize":6,"offset":-6,"values":[0,500,1000,1500]}},
    "y":{"field":"y","type":"quantitative","axis":{"orient":"left","title":null,"format":".1f","tickSize":6,"offset":-6,"values":[0,0.1,0.2,0.3,0.4,0.5,0.6]}},
    "y2":{"datum":0}}},
  {"data":{"name":"h3"},"mark":{"type":"line","interpolate":"step","strokeWidth":1.8},
   "encoding":{"x":{"field":"x","type":"quantitative","axis":{"orient":"top","title":null,"labels":false,"tickSize":6,"offset":-6,"values":[0,500,1000,1500]}},
    "y":{"field":"y","type":"quantitative","axis":{"orient":"right","title":null,"labels":false,"tickSize":6,"offset":-6,"values":[0,0.1,0.2,0.3,0.4,0.5,0.6]}},
    "color":{"field":"m","type":"nominal","legend":null,"scale":{"domain":["pu","bl","cy","tq","sg","gr","ye","go","or","re","dr","dg","lg","bk"],"range":["#9900ff","#0000ff","#00ffff","#30f0c8","#70d898","#00ff00","#ffff00","#ffb400","#ff7f00","#ff0000","#b40000","#8c8c8c","#c8c8c8","#000000"]}}}}
 ],
 "resolve":{"axis":{"x":"independent","y":"independent"}}},
{"width":262,"height":182,"title":"West Europe \u22123 to \u22121 km",
 "layer":[
  {"data":{"name":"r"},"mark":{"type":"point","opacity":0},
   "encoding":{"x":{"field":"x","type":"quantitative","scale":{"domain":[-150,151],"nice":false,"zero":false},"axis":{"orient":"top","title":null,"labels":false,"tickSize":3,"offset":-3,"values":[-150,-140,-130,-120,-110,-100,-90,-80,-70,-60,-50,-40,-30,-20,-10,0,10,20,30,40,50,60,70,80,90,100,110,120,130,140,150]}},
    "y":{"field":"y","type":"quantitative","scale":{"domain":[-0.017,1.015],"nice":false,"zero":false},"axis":{"orient":"right","title":null,"labels":false,"tickSize":3,"offset":-3,"values":[0,0.05,0.1,0.15,0.2,0.25,0.3,0.35,0.4,0.45,0.5,0.55,0.6,0.65,0.7,0.75,0.8,0.85,0.9,0.95,1]}}}},
  {"data":{"name":"r"},"mark":{"type":"rule","color":"black","strokeWidth":1},
   "encoding":{"x":{"field":"x","type":"quantitative","axis":{"orient":"bottom","title":"% Difference","tickSize":6,"offset":-6,"values":[-150,-100,-50,0,50,100,150]}},
    "y":{"field":"y","type":"quantitative","axis":{"orient":"left","title":"H value","format":".1f","tickSize":6,"offset":-6,"values":[0,0.2,0.4,0.6,0.8,1]}},
    "y2":{"field":"y2"}}},
  {"data":{"name":"s1"},"mark":{"type":"point","filled":false,"size":90},
   "encoding":{"x":{"field":"x","type":"quantitative","axis":{"orient":"top","title":null,"labels":false,"tickSize":6,"offset":-6,"values":[-150,-100,-50,0,50,100,150]}},
    "y":{"field":"y","type":"quantitative","axis":{"orient":"right","title":null,"labels":false,"tickSize":6,"offset":-6,"values":[0,0.2,0.4,0.6,0.8,1]}},
    "strokeWidth":{"condition":{"test":"datum.s === 'ast'","value":2.2},"value":1.8},
    "color":{"field":"m","type":"nominal","legend":null,"scale":{"domain":["pu","bl","cy","tq","sg","gr","ye","go","or","re","dr","dg","lg","bk"],"range":["#9900ff","#0000ff","#00ffff","#30f0c8","#70d898","#00ff00","#ffff00","#ffb400","#ff7f00","#ff0000","#b40000","#8c8c8c","#c8c8c8","#000000"]}},
    "shape":{"field":"s","type":"nominal","legend":null,"scale":{"domain":["sq","tri","dia","ast"],"range":["square","triangle-up","diamond","M0,-1L0,1M-1,0L1,0M-0.7,-0.7L0.7,0.7M-0.7,0.7L0.7,-0.7"]}}}},
  {"data":{"name":"d1"},"mark":{"type":"point","filled":true,"color":"black","size":18,"opacity":1},
   "encoding":{"x":{"field":"x","type":"quantitative","axis":{"orient":"bottom","title":null,"labels":false,"tickSize":3,"offset":-3,"values":[-150,-140,-130,-120,-110,-100,-90,-80,-70,-60,-50,-40,-30,-20,-10,0,10,20,30,40,50,60,70,80,90,100,110,120,130,140,150]}},
    "y":{"field":"y","type":"quantitative","axis":{"orient":"left","title":null,"labels":false,"tickSize":3,"offset":-3,"values":[0,0.05,0.1,0.15,0.2,0.25,0.3,0.35,0.4,0.45,0.5,0.55,0.6,0.65,0.7,0.75,0.8,0.85,0.9,0.95,1]}}}}
 ],
 "resolve":{"axis":{"x":"independent","y":"independent"}}},
{"width":262,"height":182,"title":"West Europe 1 to 3 km",
 "layer":[
  {"data":{"name":"r"},"mark":{"type":"point","opacity":0},
   "encoding":{"x":{"field":"x","type":"quantitative","scale":{"domain":[-150,151],"nice":false,"zero":false},"axis":{"orient":"top","title":null,"labels":false,"tickSize":3,"offset":-3,"values":[-150,-140,-130,-120,-110,-100,-90,-80,-70,-60,-50,-40,-30,-20,-10,0,10,20,30,40,50,60,70,80,90,100,110,120,130,140,150]}},
    "y":{"field":"y","type":"quantitative","scale":{"domain":[-0.017,1.015],"nice":false,"zero":false},"axis":{"orient":"right","title":null,"labels":false,"tickSize":3,"offset":-3,"values":[0,0.05,0.1,0.15,0.2,0.25,0.3,0.35,0.4,0.45,0.5,0.55,0.6,0.65,0.7,0.75,0.8,0.85,0.9,0.95,1]}}}},
  {"data":{"name":"r"},"mark":{"type":"rule","color":"black","strokeWidth":1},
   "encoding":{"x":{"field":"x","type":"quantitative","axis":{"orient":"bottom","title":"% Difference","tickSize":6,"offset":-6,"values":[-150,-100,-50,0,50,100,150]}},
    "y":{"field":"y","type":"quantitative","axis":{"orient":"left","title":null,"format":".1f","tickSize":6,"offset":-6,"values":[0,0.2,0.4,0.6,0.8,1]}},
    "y2":{"field":"y2"}}},
  {"data":{"name":"s2"},"mark":{"type":"point","filled":false,"size":90},
   "encoding":{"x":{"field":"x","type":"quantitative","axis":{"orient":"top","title":null,"labels":false,"tickSize":6,"offset":-6,"values":[-150,-100,-50,0,50,100,150]}},
    "y":{"field":"y","type":"quantitative","axis":{"orient":"right","title":null,"labels":false,"tickSize":6,"offset":-6,"values":[0,0.2,0.4,0.6,0.8,1]}},
    "strokeWidth":{"condition":{"test":"datum.s === 'ast'","value":2.2},"value":1.8},
    "color":{"field":"m","type":"nominal","legend":null,"scale":{"domain":["pu","bl","cy","tq","sg","gr","ye","go","or","re","dr","dg","lg","bk"],"range":["#9900ff","#0000ff","#00ffff","#30f0c8","#70d898","#00ff00","#ffff00","#ffb400","#ff7f00","#ff0000","#b40000","#8c8c8c","#c8c8c8","#000000"]}},
    "shape":{"field":"s","type":"nominal","legend":null,"scale":{"domain":["sq","tri","dia","ast"],"range":["square","triangle-up","diamond","M0,-1L0,1M-1,0L1,0M-0.7,-0.7L0.7,0.7M-0.7,0.7L0.7,-0.7"]}}}},
  {"data":{"name":"d2"},"mark":{"type":"point","filled":true,"color":"black","size":18,"opacity":1},
   "encoding":{"x":{"field":"x","type":"quantitative","axis":{"orient":"bottom","title":null,"labels":false,"tickSize":3,"offset":-3,"values":[-150,-140,-130,-120,-110,-100,-90,-80,-70,-60,-50,-40,-30,-20,-10,0,10,20,30,40,50,60,70,80,90,100,110,120,130,140,150]}},
    "y":{"field":"y","type":"quantitative","axis":{"orient":"left","title":null,"labels":false,"tickSize":3,"offset":-3,"values":[0,0.05,0.1,0.15,0.2,0.25,0.3,0.35,0.4,0.45,0.5,0.55,0.6,0.65,0.7,0.75,0.8,0.85,0.9,0.95,1]}}}}
 ],
 "resolve":{"axis":{"x":"independent","y":"independent"}}},
{"width":262,"height":182,"title":"West Europe 3 to 5 km",
 "layer":[
  {"data":{"name":"r"},"mark":{"type":"point","opacity":0},
   "encoding":{"x":{"field":"x","type":"quantitative","scale":{"domain":[-150,151],"nice":false,"zero":false},"axis":{"orient":"top","title":null,"labels":false,"tickSize":3,"offset":-3,"values":[-150,-140,-130,-120,-110,-100,-90,-80,-70,-60,-50,-40,-30,-20,-10,0,10,20,30,40,50,60,70,80,90,100,110,120,130,140,150]}},
    "y":{"field":"y","type":"quantitative","scale":{"domain":[-0.017,1.015],"nice":false,"zero":false},"axis":{"orient":"right","title":null,"labels":false,"tickSize":3,"offset":-3,"values":[0,0.05,0.1,0.15,0.2,0.25,0.3,0.35,0.4,0.45,0.5,0.55,0.6,0.65,0.7,0.75,0.8,0.85,0.9,0.95,1]}}}},
  {"data":{"name":"r"},"mark":{"type":"rule","color":"black","strokeWidth":1},
   "encoding":{"x":{"field":"x","type":"quantitative","axis":{"orient":"bottom","title":"% Difference","tickSize":6,"offset":-6,"values":[-150,-100,-50,0,50,100,150]}},
    "y":{"field":"y","type":"quantitative","axis":{"orient":"left","title":null,"format":".1f","tickSize":6,"offset":-6,"values":[0,0.2,0.4,0.6,0.8,1]}},
    "y2":{"field":"y2"}}},
  {"data":{"name":"s3"},"mark":{"type":"point","filled":false,"size":90},
   "encoding":{"x":{"field":"x","type":"quantitative","axis":{"orient":"top","title":null,"labels":false,"tickSize":6,"offset":-6,"values":[-150,-100,-50,0,50,100,150]}},
    "y":{"field":"y","type":"quantitative","axis":{"orient":"right","title":null,"labels":false,"tickSize":6,"offset":-6,"values":[0,0.2,0.4,0.6,0.8,1]}},
    "strokeWidth":{"condition":{"test":"datum.s === 'ast'","value":2.2},"value":1.8},
    "color":{"field":"m","type":"nominal","legend":null,"scale":{"domain":["pu","bl","cy","tq","sg","gr","ye","go","or","re","dr","dg","lg","bk"],"range":["#9900ff","#0000ff","#00ffff","#30f0c8","#70d898","#00ff00","#ffff00","#ffb400","#ff7f00","#ff0000","#b40000","#8c8c8c","#c8c8c8","#000000"]}},
    "shape":{"field":"s","type":"nominal","legend":null,"scale":{"domain":["sq","tri","dia","ast"],"range":["square","triangle-up","diamond","M0,-1L0,1M-1,0L1,0M-0.7,-0.7L0.7,0.7M-0.7,0.7L0.7,-0.7"]}}}},
  {"data":{"name":"d3"},"mark":{"type":"point","filled":true,"color":"black","size":18,"opacity":1},
   "encoding":{"x":{"field":"x","type":"quantitative","axis":{"orient":"bottom","title":null,"labels":false,"tickSize":3,"offset":-3,"values":[-150,-140,-130,-120,-110,-100,-90,-80,-70,-60,-50,-40,-30,-20,-10,0,10,20,30,40,50,60,70,80,90,100,110,120,130,140,150]}},
    "y":{"field":"y","type":"quantitative","axis":{"orient":"left","title":null,"labels":false,"tickSize":3,"offset":-3,"values":[0,0.05,0.1,0.15,0.2,0.25,0.3,0.35,0.4,0.45,0.5,0.55,0.6,0.65,0.7,0.75,0.8,0.85,0.9,0.95,1]}}}}
 ],
 "resolve":{"axis":{"x":"independent","y":"independent"}}}
],
"config":{
 "font":"Liberation Sans",
 "view":{"stroke":"black","strokeWidth":1},
 "title":{"fontSize":16,"fontWeight":"normal","color":"black","offset":5,"font":"Liberation Sans"},
 "axis":{"domain":false,"grid":false,"ticks":true,"tickColor":"black","tickWidth":1,"labelColor":"black","labelFont":"Liberation Sans","labelFontSize":13.5,"titleFont":"Liberation Sans","titleFontSize":14,"titleFontWeight":"normal","titleColor":"black","labelFlush":false,"labelOverlap":false,"labelBound":false,"zindex":1},
 "axisBottom":{"labelPadding":6,"titlePadding":11},
 "axisLeft":{"labelPadding":4,"titlePadding":20}
}
}
